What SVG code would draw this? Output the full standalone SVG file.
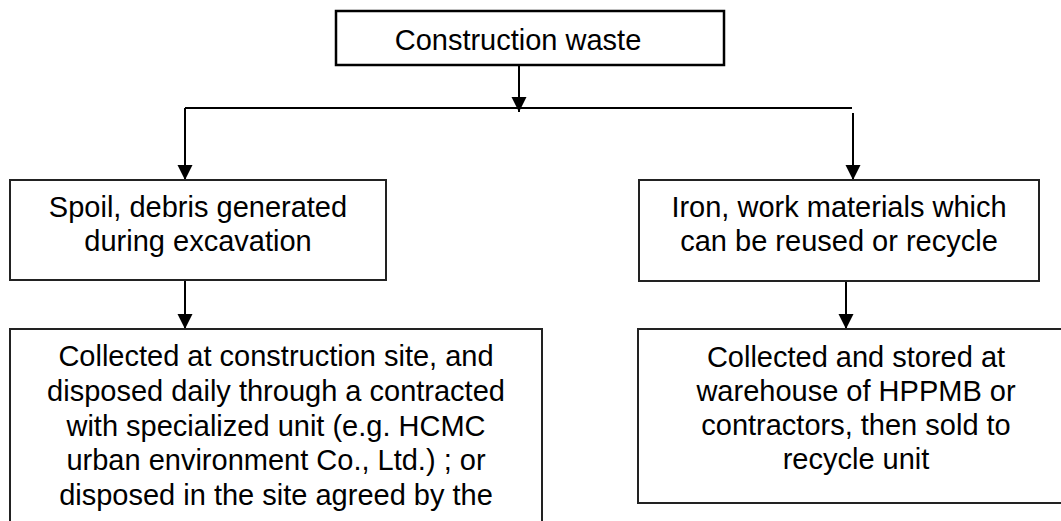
<svg xmlns="http://www.w3.org/2000/svg" width="1061" height="521" viewBox="0 0 1061 521">
<style>
.box{fill:#fff;stroke:#222;stroke-width:2}
.top{fill:#fff;stroke:#000;stroke-width:2.5}
.t{font-family:"Liberation Sans",Arial,sans-serif;font-size:29px;fill:#000;text-anchor:middle}
.c{stroke:#000;stroke-width:2;fill:none}
</style>
<defs>
<marker id="ah" markerUnits="userSpaceOnUse" markerWidth="16" markerHeight="16" viewBox="0 0 16 16" refX="15" refY="8" orient="auto">
<path d="M0,0.5 L15,8 L0,15.5 Z" fill="#000"/>
</marker>
</defs>
<rect width="1061" height="521" fill="#fff"/>
<g id="connectors">
<line class="c" x1="519" y1="65" x2="519" y2="112" marker-end="url(#ah)"/>
<line class="c" x1="185" y1="108" x2="852" y2="108"/>
<line class="c" x1="185" y1="108" x2="185" y2="180" marker-end="url(#ah)"/>
<line class="c" x1="853" y1="113" x2="853" y2="180" marker-end="url(#ah)"/>
<line class="c" x1="185" y1="280" x2="185" y2="329" marker-end="url(#ah)"/>
<line class="c" x1="846" y1="281" x2="846" y2="329" marker-end="url(#ah)"/>
</g>
<g id="n-waste">
<rect class="top" x="336" y="11" width="388" height="54"/>
<text class="t" x="518" y="50">Construction waste</text>
</g>
<g id="n-spoil">
<rect class="box" x="10" y="180" width="376" height="100"/>
<text class="t" x="198" y="217">Spoil, debris generated</text>
<text class="t" x="198" y="251">during excavation</text>
</g>
<g id="n-iron">
<rect class="box" x="639" y="180" width="400" height="101"/>
<text class="t" x="839" y="217">Iron, work materials which</text>
<text class="t" x="839" y="251">can be reused or recycle</text>
</g>
<g id="n-collected-site">
<rect class="box" x="10" y="329" width="532" height="220"/>
<text class="t" x="276" y="366">Collected at construction site, and</text>
<text class="t" x="276" y="401">disposed daily through a contracted</text>
<text class="t" x="276" y="436">with specialized unit (e.g. HCMC</text>
<text class="t" x="276" y="470">urban environment Co., Ltd.) ; or</text>
<text class="t" x="276" y="505">disposed in the site agreed by the</text>
</g>
<g id="n-collected-warehouse">
<rect class="box" x="638" y="329" width="436" height="174"/>
<text class="t" x="856" y="367">Collected and stored at</text>
<text class="t" x="856" y="401">warehouse of HPPMB or</text>
<text class="t" x="856" y="435">contractors, then sold to</text>
<text class="t" x="856" y="469">recycle unit</text>
</g>
</svg>
